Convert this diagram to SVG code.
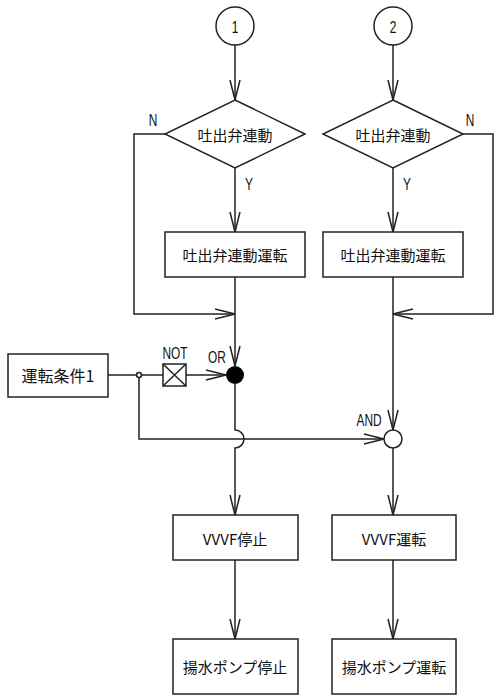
<svg xmlns="http://www.w3.org/2000/svg" width="495" height="698" viewBox="0 0 495 698">
<style>
.s{fill:none;stroke:#222;stroke-width:1.5}
.b{fill:#fff;stroke:#222;stroke-width:1.5}
.t{font-family:"Noto Sans CJK JP","Noto Sans CJK SC",sans-serif;font-size:15px;fill:#111;text-anchor:middle;dominant-baseline:central}
.l{font-family:"Liberation Sans","DejaVu Sans",sans-serif;font-size:17px;fill:#111;text-anchor:middle;dominant-baseline:central}
</style>
<defs>
<marker id="a" markerUnits="userSpaceOnUse" markerWidth="22" markerHeight="12" refX="20" refY="5" orient="auto" overflow="visible">
<path d="M0,0 L20,5 L0,10" fill="none" stroke="#222" stroke-width="1.5"/>
</marker>
</defs>
<rect width="495" height="698" fill="#fff"/>
<g id="connectors" class="s">
<path d="M235,45 V100" marker-end="url(#a)"/>
<path d="M393,45 V100" marker-end="url(#a)"/>
<path d="M235,168 V232" marker-end="url(#a)"/>
<path d="M393,168 V232" marker-end="url(#a)"/>
<path d="M165,134 H134 V314 H235" marker-end="url(#a)"/>
<path d="M463,134 H493 V314 H393" marker-end="url(#a)"/>
<path d="M235,277 V366" marker-end="url(#a)"/>
<path d="M393,277 V430" marker-end="url(#a)"/>
<path d="M108,375 H163"/>
<path d="M186,375 H226" marker-end="url(#a)"/>
<path d="M139,375 V439 H384" marker-end="url(#a)"/>
<path d="M235,384 V430 A9,9 0 0 1 235,448 V515" marker-end="url(#a)"/>
<path d="M393,448 V515" marker-end="url(#a)"/>
<path d="M235,560 V639" marker-end="url(#a)"/>
<path d="M393,560 V639" marker-end="url(#a)"/>
</g>
<g id="start1"><circle class="b" cx="235" cy="26" r="19"/><text class="l" transform="translate(235,27) scale(0.7,1)">1</text></g>
<g id="start2"><circle class="b" cx="393" cy="26" r="19"/><text class="l" transform="translate(393,27) scale(0.7,1)">2</text></g>
<g id="dec1"><path class="b" d="M235,100 L305,134 L235,168 L165,134 Z"/><text class="t" x="235" y="134">吐出弁連動</text>
<text class="l" transform="translate(153,120) scale(0.7,1)">N</text><text class="l" transform="translate(249,184) scale(0.7,1)">Y</text></g>
<g id="dec2"><path class="b" d="M393,100 L463,134 L393,168 L323,134 Z"/><text class="t" x="393" y="134">吐出弁連動</text>
<text class="l" transform="translate(470,120) scale(0.7,1)">N</text><text class="l" transform="translate(407,184) scale(0.7,1)">Y</text></g>
<g id="box1"><rect class="b" x="165" y="232" width="140" height="45"/><text class="t" x="235" y="254">吐出弁連動運転</text></g>
<g id="box2"><rect class="b" x="323" y="232" width="140" height="45"/><text class="t" x="393" y="254">吐出弁連動運転</text></g>
<g id="cond1"><rect class="b" x="8" y="354" width="100" height="43"/><text class="t" x="58" y="375" style="font-size:16px">運転条件1</text></g>
<g id="junction"><circle class="b" cx="139" cy="375" r="2.5"/></g>
<g id="not"><rect class="b" x="163" y="364" width="23" height="22"/><path class="s" d="M163,364 L186,386 M186,364 L163,386"/><text class="l" transform="translate(175,353) scale(0.7,1)">NOT</text></g>
<g id="or"><circle cx="235" cy="375" r="9" fill="#000"/><text class="l" transform="translate(217,357) scale(0.7,1)">OR</text></g>
<g id="and"><circle class="b" cx="393" cy="439" r="9"/><text class="l" transform="translate(369,420) scale(0.7,1)">AND</text></g>
<g id="vvvfstop"><rect class="b" x="173" y="515" width="125" height="45"/><text class="t" x="235" y="538">VVVF停止</text></g>
<g id="vvvfrun"><rect class="b" x="332" y="515" width="124" height="45"/><text class="t" x="394" y="538">VVVF運転</text></g>
<g id="pumpstop"><rect class="b" x="173" y="639" width="125" height="55"/><text class="t" x="235" y="666">揚水ポンプ停止</text></g>
<g id="pumprun"><rect class="b" x="332" y="639" width="124" height="55"/><text class="t" x="394" y="666">揚水ポンプ運転</text></g>
</svg>
